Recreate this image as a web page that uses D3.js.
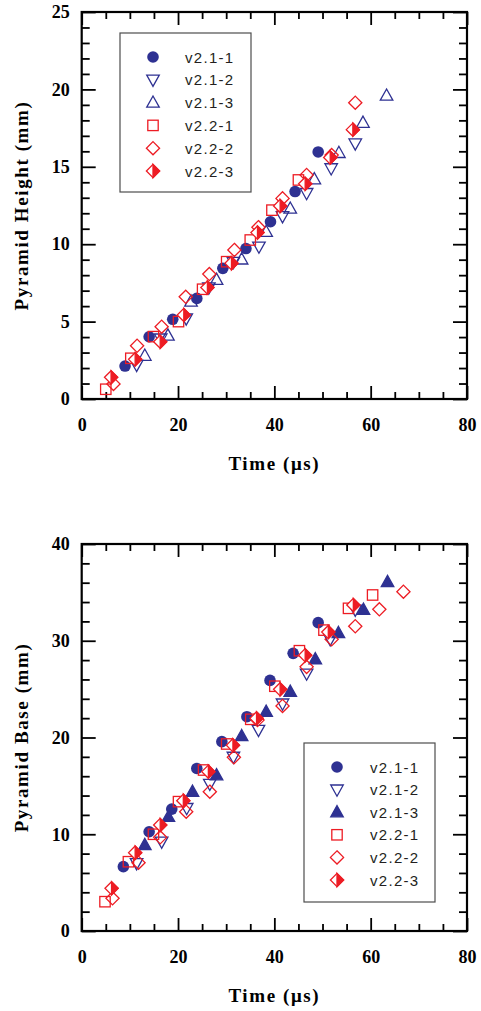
<!DOCTYPE html>
<html>
<head>
<meta charset="utf-8">
<script src="https://cdn.jsdelivr.net/npm/d3@7"></script>
<style>
  html, body { margin: 0; padding: 0; background: #fff; }
  svg { display: block; }
</style>
</head>
<body>
<script>
// ---------- data ----------
const seriesNames = ["v2.1-1", "v2.1-2", "v2.1-3", "v2.2-1", "v2.2-2", "v2.2-3"];

// Top chart: Pyramid Height (mm) vs Time (µs)
const h21_1_t = [9.0, 14.0, 18.9, 23.9, 29.3, 34.1, 39.2, 44.3, 49.1];
const h21_1_v = [2.13, 4.02, 5.15, 6.5, 8.44, 9.72, 11.45, 13.4, 15.96];
const h21_2_t = [11.4, 16.4, 21.7, 26.4, 31.5, 36.8, 41.7, 46.7, 51.8, 56.8];
const h21_2_v = [2.2, 3.9, 5.2, 7.2, 8.85, 9.84, 11.8, 13.3, 14.9, 16.5];
const h21_3_t = [13.1, 17.9, 22.7, 28.0, 33.2, 38.3, 43.3, 48.3, 53.4, 58.4, 63.3];
const h21_3_v = [2.8, 4.1, 6.3, 7.7, 9.02, 10.8, 12.3, 14.2, 15.9, 17.85, 19.6];
const h22_1_t = [5.0, 10.2, 14.9, 20.1, 25.1, 30.1, 35.0, 39.5, 45.0];
const h22_1_v = [0.63, 2.63, 4.03, 5.0, 7.09, 8.87, 10.27, 12.2, 14.15];
const h22_2_t = [6.6, 11.5, 16.6, 21.6, 26.5, 31.7, 36.7, 41.7, 46.7, 51.9, 56.8];
const h22_2_v = [0.97, 3.44, 4.67, 6.6, 8.07, 9.63, 11.1, 12.96, 14.47, 15.76, 19.14];
const h22_3_t = [6.1, 11.1, 16.3, 21.2, 26.1, 31.1, 36.5, 41.2, 46.4, 51.6, 56.3];
const h22_3_v = [1.4, 2.56, 3.7, 5.43, 7.2, 8.77, 10.75, 12.47, 13.9, 15.6, 17.4];

// Bottom chart: Pyramid Base (mm) vs Time (µs)
const b21_1_t = [8.65, 14.0, 18.7, 23.9, 29.1, 34.3, 39.1, 43.9, 49.1];
const b21_1_v = [6.65, 10.26, 12.6, 16.8, 19.57, 22.15, 25.9, 28.7, 31.87];
const b21_2_t = [11.4, 16.6, 21.8, 26.6, 31.5, 36.7, 41.7, 46.7, 51.6, 56.8];
const b21_2_v = [7.0, 9.23, 12.7, 15.2, 18.0, 20.78, 23.5, 26.6, 30.15, 33.2];
const b21_3_t = [13.1, 18.0, 23.0, 28.0, 33.2, 38.3, 43.3, 48.5, 53.3, 58.5, 63.5];
const b21_3_v = [8.9, 11.8, 14.4, 16.1, 20.15, 22.67, 24.73, 28.1, 30.8, 33.2, 36.07];
const b22_1_t = [4.84, 9.7, 14.9, 20.1, 25.3, 30.1, 35.1, 40.1, 45.2, 50.3, 55.4, 60.4];
const b22_1_v = [3.03, 7.16, 10.0, 13.37, 16.64, 19.33, 21.88, 25.3, 28.97, 31.1, 33.35, 34.73];
const b22_2_t = [6.4, 11.8, 16.3, 21.7, 26.6, 31.6, 36.5, 41.7, 46.7, 51.9, 56.8, 61.8, 66.8];
const b22_2_v = [3.38, 7.06, 9.68, 12.33, 14.4, 17.95, 21.8, 23.26, 27.3, 30.15, 31.5, 33.25, 35.07];
const b22_3_t = [6.2, 11.1, 16.3, 21.1, 26.3, 31.4, 36.3, 41.2, 46.4, 51.2, 56.4];
const b22_3_v = [4.41, 8.1, 10.96, 13.47, 16.47, 19.2, 21.98, 24.98, 28.5, 30.9, 33.7];

const xTicks = [0, 20, 40, 60, 80];
const topYTicks = [0, 5, 10, 15, 20, 25];
const botYTicks = [0, 10, 20, 30, 40];

// ---------- styles ----------
const BLUE = "#2e3192";
const RED = "#ed1c24";
const markerTypes = ["circle", "tridown", "triup-open", "square", "diamond", "halfdiamond"];
const markerTypesBottom = ["circle", "tridown", "triup-filled", "square", "diamond", "halfdiamond"];
const markerColors = [BLUE, BLUE, BLUE, RED, RED, RED];

const W = 481, H = 1011;
const svg = d3.select("body").append("svg").attr("width", W).attr("height", H);

function drawMarker(g, type, color, cx, cy) {
  const sw = 1.3;
  if (type === "circle") {
    g.append("circle").attr("cx", cx).attr("cy", cy).attr("r", 5.8).attr("fill", color);
  } else if (type === "tridown" || type === "triup-open" || type === "triup-filled") {
    const s = 6.6;
    const up = type !== "tridown";
    const pts = up
      ? [[cx, cy - s], [cx - s * 0.95, cy + s * 0.7], [cx + s * 0.95, cy + s * 0.7]]
      : [[cx, cy + s], [cx - s * 0.95, cy - s * 0.7], [cx + s * 0.95, cy - s * 0.7]];
    g.append("path").attr("d", "M" + pts.map(p => p.join(",")).join("L") + "Z")
      .attr("fill", type === "triup-filled" ? color : "none")
      .attr("stroke", color).attr("stroke-width", sw);
  } else if (type === "square") {
    const s = 5.2;
    g.append("rect").attr("x", cx - s).attr("y", cy - s).attr("width", 2 * s).attr("height", 2 * s)
      .attr("fill", "none").attr("stroke", color).attr("stroke-width", sw);
  } else if (type === "diamond") {
    const s = 6.6;
    g.append("path").attr("d", `M${cx},${cy - s}L${cx + s},${cy}L${cx},${cy + s}L${cx - s},${cy}Z`)
      .attr("fill", "none").attr("stroke", color).attr("stroke-width", sw);
  } else if (type === "halfdiamond") {
    const s = 6.6;
    g.append("path").attr("d", `M${cx},${cy - s}L${cx + s},${cy}L${cx},${cy + s}L${cx - s},${cy}Z`)
      .attr("fill", "#fff").attr("stroke", color).attr("stroke-width", sw);
    g.append("path").attr("d", `M${cx},${cy - s}L${cx + s},${cy}L${cx},${cy + s}Z`)
      .attr("fill", color).attr("stroke", color).attr("stroke-width", sw);
  }
}

function drawChart(opts) {
  const { top, bottom, yMax, yMajor, yMinorStep, yLabel, series, types, legend } = opts;
  const left = 81.7, right = 467;
  const x = d3.scaleLinear().domain([0, 80]).range([left, right]);
  const y = d3.scaleLinear().domain([0, yMax]).range([bottom, top]);
  const g = svg.append("g");

  const xMinor = d3.range(0, 80.001, 5).filter(v => v % 20 !== 0);
  const yMinor = d3.range(0, yMax + 0.001, yMinorStep).filter(v => !yMajor.includes(v));

  const tickStyle = sel => {
    sel.select(".domain").remove();
    sel.selectAll(".tick line").attr("stroke", "#000").attr("stroke-width", 1.8);
  };
  const labelFont = sel => sel.selectAll("text")
    .style("font-family", "'Liberation Serif', 'Times New Roman', serif")
    .style("font-weight", "bold").style("font-size", "18px").attr("fill", "#000");

  const bx = g.append("g").attr("transform", `translate(0,${bottom})`)
    .call(d3.axisBottom(x).tickValues(xTicks).tickSizeInner(-13).tickSizeOuter(0).tickPadding(19).tickFormat(d3.format("d")));
  tickStyle(bx); labelFont(bx);
  const bxm = g.append("g").attr("transform", `translate(0,${bottom})`)
    .call(d3.axisBottom(x).tickValues(xMinor).tickSizeInner(-7).tickSizeOuter(0).tickFormat(""));
  tickStyle(bxm);
  const tx = g.append("g").attr("transform", `translate(0,${top})`)
    .call(d3.axisTop(x).tickValues(xTicks).tickSizeInner(-13).tickSizeOuter(0).tickFormat(""));
  tickStyle(tx);
  const txm = g.append("g").attr("transform", `translate(0,${top})`)
    .call(d3.axisTop(x).tickValues(xMinor).tickSizeInner(-7).tickSizeOuter(0).tickFormat(""));
  tickStyle(txm);
  const ly = g.append("g").attr("transform", `translate(${left},0)`)
    .call(d3.axisLeft(y).tickValues(yMajor).tickSizeInner(-14).tickSizeOuter(0).tickPadding(12).tickFormat(d3.format("d")));
  tickStyle(ly); labelFont(ly);
  const lym = g.append("g").attr("transform", `translate(${left},0)`)
    .call(d3.axisLeft(y).tickValues(yMinor).tickSizeInner(-8).tickSizeOuter(0).tickFormat(""));
  tickStyle(lym);
  const ry = g.append("g").attr("transform", `translate(${right},0)`)
    .call(d3.axisRight(y).tickValues(yMajor).tickSizeInner(-14).tickSizeOuter(0).tickFormat(""));
  tickStyle(ry);
  const rym = g.append("g").attr("transform", `translate(${right},0)`)
    .call(d3.axisRight(y).tickValues(yMinor).tickSizeInner(-8).tickSizeOuter(0).tickFormat(""));
  tickStyle(rym);

  g.append("rect").attr("x", left).attr("y", top).attr("width", right - left).attr("height", bottom - top)
    .attr("fill", "none").attr("stroke", "#000").attr("stroke-width", 2.2);

  g.append("text")
    .attr("transform", `translate(${28},${(top + bottom) / 2}) rotate(-90)`)
    .attr("text-anchor", "middle")
    .style("font-family", "'Liberation Serif', 'Times New Roman', serif")
    .style("font-weight", "bold").style("font-size", "19px").style("letter-spacing", "1.6px")
    .text(yLabel);
  g.append("text")
    .attr("x", (left + right) / 2).attr("y", bottom + 71)
    .attr("text-anchor", "middle")
    .style("font-family", "'Liberation Serif', 'Times New Roman', serif")
    .style("font-weight", "bold").style("font-size", "19px").style("letter-spacing", "1.6px")
    .text("Time (\u03BCs)");

  series.forEach((s, i) => {
    const sg = g.append("g");
    s.t.forEach((tv, j) => drawMarker(sg, types[i], markerColors[i], x(tv), y(s.v[j])));
  });

  const lg = g.append("g");
  lg.append("rect").attr("x", legend.x).attr("y", legend.y).attr("width", legend.w).attr("height", legend.h)
    .attr("fill", "#fff").attr("stroke", "#4d4d4d").attr("stroke-width", 1.2);
  seriesNames.forEach((name, i) => {
    const ry0 = legend.y + legend.first + i * legend.step;
    drawMarker(lg, types[i], markerColors[i], legend.x + legend.sx, ry0);
    lg.append("text").attr("x", legend.x + legend.tx).attr("y", ry0 + 5.5)
      .style("font-family", "'Liberation Sans', Arial, sans-serif")
      .style("font-size", "15px").style("letter-spacing", "1.3px").attr("fill", "#231f20")
      .text(name);
  });
}

drawChart({
  top: 12, bottom: 399, yMax: 25, yMajor: topYTicks, yMinorStep: 1,
  yLabel: "Pyramid Height (mm)",
  series: [
    { t: h21_1_t, v: h21_1_v }, { t: h21_2_t, v: h21_2_v }, { t: h21_3_t, v: h21_3_v },
    { t: h22_1_t, v: h22_1_v }, { t: h22_2_t, v: h22_2_v }, { t: h22_3_t, v: h22_3_v }
  ],
  types: markerTypes,
  legend: { x: 120, y: 33, w: 131, h: 159, first: 24, step: 22.8, sx: 33, tx: 65 }
});

drawChart({
  top: 544, bottom: 931, yMax: 40, yMajor: botYTicks, yMinorStep: 2,
  yLabel: "Pyramid Base (mm)",
  series: [
    { t: b21_1_t, v: b21_1_v }, { t: b21_2_t, v: b21_2_v }, { t: b21_3_t, v: b21_3_v },
    { t: b22_1_t, v: b22_1_v }, { t: b22_2_t, v: b22_2_v }, { t: b22_3_t, v: b22_3_v }
  ],
  types: markerTypesBottom,
  legend: { x: 304, y: 743, w: 131, h: 159, first: 24, step: 22.6, sx: 33, tx: 66 }
});
</script>
</body>
</html>
